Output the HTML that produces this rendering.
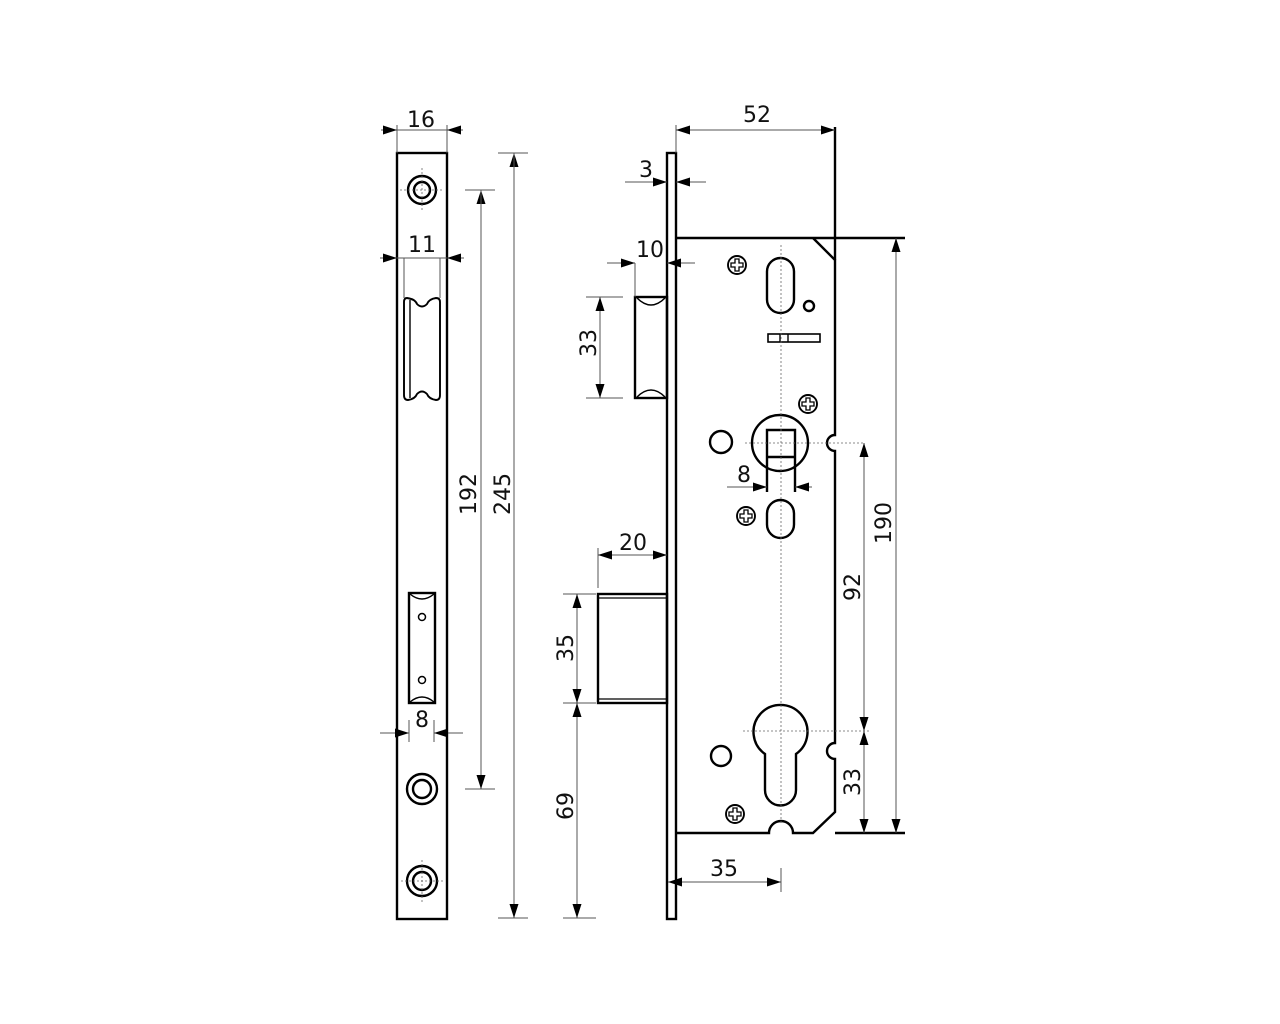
<!DOCTYPE html>
<html><head><meta charset="utf-8"><style>
html,body{margin:0;padding:0;background:#fff}
svg{display:block}
text{font-family:"DejaVu Sans","Liberation Sans",sans-serif;font-size:22px;fill:#111}
</style></head><body>
<svg width="1280" height="1024" viewBox="0 0 1280 1024" xmlns="http://www.w3.org/2000/svg">
<defs>
<marker id="a" viewBox="0 0 14 10" refX="14" refY="5" markerWidth="14" markerHeight="10" markerUnits="userSpaceOnUse" orient="auto-start-reverse"><path d="M0,0.5 L14,5 L0,9.5 z" fill="#000"/></marker>
</defs>
<g fill="none" stroke="#000" stroke-width="2.4">
<rect x="397" y="153" width="50" height="766"/>
<circle cx="422" cy="190" r="14"/><circle cx="422" cy="190" r="8"/>
<circle cx="422" cy="789" r="15"/><circle cx="422" cy="789" r="9"/>
<circle cx="422" cy="881" r="15"/><circle cx="422" cy="881" r="9"/>
<path d="M407,298 Q404,298 404,302 L404,395 Q404,400 408,400 Q415,399 417,394 Q422,389 427,394 Q429,399 436,400 Q440,400 440,395 L440,302 Q440,298 436,298 Q429,299 427,304 Q422,309 417,304 Q415,299 407,298 Z" stroke-width="1.9"/>
<line x1="410" y1="300" x2="410" y2="398" stroke-width="1.4"/>
<rect x="409" y="593" width="26" height="110"/>
<path d="M410,594 Q422,604 434,594 M410,702 Q422,692 434,702" stroke-width="1.4"/>
<circle cx="422" cy="617" r="3.5" stroke-width="1.5"/><circle cx="422" cy="680" r="3.5" stroke-width="1.5"/>
<rect x="667" y="153" width="9" height="766"/>
<path d="M676,238 L905,238" />
<path d="M835,127 L835,260"/>
<path d="M813,238 L835,260 L835,435 A8,8 0 0 0 835,451 L835,743 A8,8 0 0 0 835,759 L835,812 L813,833 L793,833 A12,12 0 0 0 769,833 L676,833"/>
<path d="M835,833 L905,833"/>
<rect x="635" y="297" width="32" height="101"/>
<path d="M637,298 Q651,312 665,298 M637,397 Q651,383 665,397" stroke-width="1.5"/>
<rect x="598" y="594" width="69" height="109"/>
<line x1="598" y1="598" x2="667" y2="598" stroke-width="1.2"/>
<line x1="598" y1="699" x2="667" y2="699" stroke-width="1.2"/>
<rect x="767" y="258" width="27" height="55" rx="13.5"/>
<circle cx="809" cy="306" r="5"/>
<rect x="768" y="334" width="52" height="8" stroke-width="1.6"/>
<line x1="780" y1="334" x2="780" y2="342" stroke-width="1.4"/><line x1="788" y1="334" x2="788" y2="342" stroke-width="1.4"/>
<circle cx="780" cy="443" r="28"/>
<path d="M767,492 L767,430 L795,430 L795,492 M767,457 L795,457"/>
<circle cx="721" cy="442" r="11"/>
<rect x="767" y="500" width="27" height="38" rx="13.5"/>
<path d="M765,790 L765,754 A27,27 0 1 1 796,754 L796,790 A15.5,15.5 0 0 1 765,790 Z"/>
<circle cx="721" cy="756" r="10"/>
</g>
<g fill="none" stroke="#000" stroke-width="1.9">
<g transform="translate(737,265)"><circle r="9"/><path d="M-2,-6 h4 v4 h4 v4 h-4 v4 h-4 v-4 h-4 v-4 h4 z" stroke-width="1.3"/></g>
<g transform="translate(808,404)"><circle r="9"/><path d="M-2,-6 h4 v4 h4 v4 h-4 v4 h-4 v-4 h-4 v-4 h4 z" stroke-width="1.3"/></g>
<g transform="translate(746,516)"><circle r="9"/><path d="M-2,-6 h4 v4 h4 v4 h-4 v4 h-4 v-4 h-4 v-4 h4 z" stroke-width="1.3"/></g>
<g transform="translate(735,814)"><circle r="9"/><path d="M-2,-6 h4 v4 h4 v4 h-4 v4 h-4 v-4 h-4 v-4 h4 z" stroke-width="1.3"/></g>
</g>
<g stroke="#666" stroke-width="0.8" stroke-dasharray="2,2" fill="none">
<line x1="422" y1="168" x2="422" y2="212"/><line x1="400" y1="190" x2="444" y2="190"/>
<line x1="422" y1="860" x2="422" y2="902"/><line x1="401" y1="881" x2="444" y2="881"/>
<line x1="781" y1="245" x2="781" y2="825"/>
<line x1="745" y1="443" x2="865" y2="443"/>
<line x1="743" y1="731" x2="870" y2="731"/>
</g>
<g stroke="#555" stroke-width="1" fill="none">
<line x1="397" y1="125" x2="397" y2="153"/><line x1="447" y1="125" x2="447" y2="153"/>
<line x1="381" y1="130" x2="397" y2="130" marker-end="url(#a)"/><line x1="463" y1="130" x2="447" y2="130" marker-end="url(#a)"/>
<line x1="397" y1="130" x2="447" y2="130"/>
<line x1="380" y1="258" x2="397" y2="258" marker-end="url(#a)"/><line x1="464" y1="258" x2="447" y2="258" marker-end="url(#a)"/>
<line x1="397" y1="258" x2="447" y2="258"/>
<line x1="404" y1="258" x2="404" y2="298"/><line x1="440" y1="258" x2="440" y2="298"/>
<line x1="380" y1="733" x2="409" y2="733" marker-end="url(#a)"/><line x1="463" y1="733" x2="434" y2="733" marker-end="url(#a)"/>
<line x1="409" y1="720" x2="409" y2="742"/><line x1="434" y1="720" x2="434" y2="742"/>
<line x1="465" y1="190" x2="495" y2="190"/><line x1="465" y1="789" x2="495" y2="789"/>
<line x1="481" y1="789" x2="481" y2="190" marker-end="url(#a)"/><line x1="481" y1="190" x2="481" y2="789" marker-end="url(#a)"/>
<line x1="498" y1="153" x2="528" y2="153"/><line x1="498" y1="918" x2="528" y2="918"/>
<line x1="514" y1="918" x2="514" y2="153" marker-end="url(#a)"/><line x1="514" y1="153" x2="514" y2="918" marker-end="url(#a)"/>
<line x1="676" y1="125" x2="676" y2="153"/>
<line x1="756" y1="130" x2="676" y2="130" marker-end="url(#a)"/><line x1="756" y1="130" x2="835" y2="130" marker-end="url(#a)"/>
<line x1="625" y1="182" x2="667" y2="182" marker-end="url(#a)"/><line x1="706" y1="182" x2="676" y2="182" marker-end="url(#a)"/>
<line x1="607" y1="263" x2="635" y2="263" marker-end="url(#a)"/><line x1="695" y1="263" x2="667" y2="263" marker-end="url(#a)"/>
<line x1="635" y1="263" x2="635" y2="297"/>
<line x1="586" y1="297" x2="623" y2="297"/><line x1="586" y1="398" x2="623" y2="398"/>
<line x1="600" y1="347" x2="600" y2="297" marker-end="url(#a)"/><line x1="600" y1="347" x2="600" y2="398" marker-end="url(#a)"/>
<line x1="598" y1="548" x2="598" y2="588"/>
<line x1="633" y1="555" x2="598" y2="555" marker-end="url(#a)"/><line x1="633" y1="555" x2="667" y2="555" marker-end="url(#a)"/>
<line x1="563" y1="594" x2="596" y2="594"/><line x1="563" y1="703" x2="596" y2="703"/><line x1="563" y1="918" x2="596" y2="918"/>
<line x1="577" y1="648" x2="577" y2="594" marker-end="url(#a)"/><line x1="577" y1="648" x2="577" y2="703" marker-end="url(#a)"/>
<line x1="577" y1="810" x2="577" y2="703" marker-end="url(#a)"/><line x1="577" y1="810" x2="577" y2="918" marker-end="url(#a)"/>
<line x1="727" y1="487" x2="767" y2="487" marker-end="url(#a)"/><line x1="812" y1="487" x2="795" y2="487" marker-end="url(#a)"/>
<line x1="781" y1="868" x2="781" y2="892"/>
<line x1="724" y1="882" x2="668" y2="882" marker-end="url(#a)"/><line x1="724" y1="882" x2="781" y2="882" marker-end="url(#a)"/>
<line x1="864" y1="587" x2="864" y2="443" marker-end="url(#a)"/><line x1="864" y1="587" x2="864" y2="731" marker-end="url(#a)"/>
<line x1="864" y1="782" x2="864" y2="731" marker-end="url(#a)"/><line x1="864" y1="782" x2="864" y2="833" marker-end="url(#a)"/>
<line x1="896" y1="535" x2="896" y2="238" marker-end="url(#a)"/><line x1="896" y1="535" x2="896" y2="833" marker-end="url(#a)"/>
</g>
<text x="421" y="127" text-anchor="middle">16</text>
<text x="422" y="252" text-anchor="middle">11</text>
<text x="422" y="727" text-anchor="middle">8</text>
<text transform="translate(476,494) rotate(-90)" text-anchor="middle">192</text>
<text transform="translate(510,494) rotate(-90)" text-anchor="middle">245</text>
<text x="757" y="122" text-anchor="middle">52</text>
<text x="646" y="177" text-anchor="middle">3</text>
<text x="650" y="257" text-anchor="middle">10</text>
<text transform="translate(596,343) rotate(-90)" text-anchor="middle">33</text>
<text x="633" y="550" text-anchor="middle">20</text>
<text transform="translate(573,648) rotate(-90)" text-anchor="middle">35</text>
<text transform="translate(573,806) rotate(-90)" text-anchor="middle">69</text>
<text x="744" y="482" text-anchor="middle">8</text>
<text x="724" y="876" text-anchor="middle">35</text>
<text transform="translate(860,587) rotate(-90)" text-anchor="middle">92</text>
<text transform="translate(860,782) rotate(-90)" text-anchor="middle">33</text>
<text transform="translate(891,523) rotate(-90)" text-anchor="middle">190</text>
</svg>
</body></html>
